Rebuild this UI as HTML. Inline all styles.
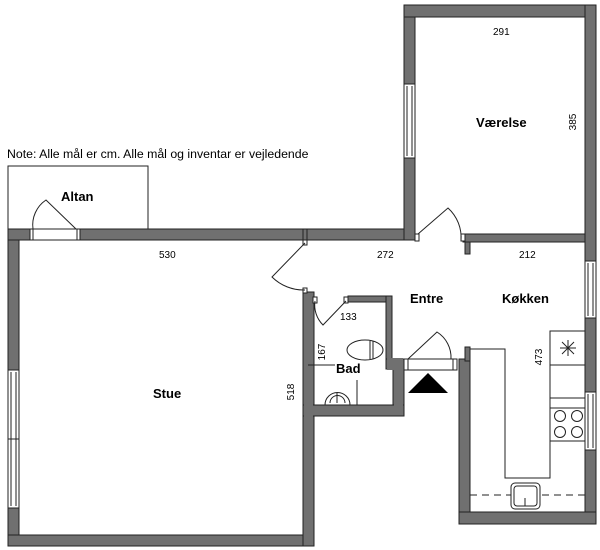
<!DOCTYPE html>
<html><head><meta charset="utf-8"><style>
html,body{margin:0;padding:0;background:#fff;width:600px;height:550px;overflow:hidden}
svg{display:block}
text{font-family:"Liberation Sans",Arial,sans-serif;fill:#000}
.b{font-weight:bold;font-size:13px}
.d{font-size:10px}
</style></head><body>
<svg width="600" height="550" viewBox="0 0 600 550">
<g fill="#707070" stroke="#222" stroke-width="1">
<rect x="8" y="229" width="11" height="317"/>
<rect x="8" y="535" width="306" height="11"/>
<rect x="303" y="292" width="11" height="254"/>
<rect x="8" y="229" width="406" height="11"/>
<rect x="303" y="229" width="4" height="14"/>
<rect x="404" y="5" width="11" height="235"/>
<rect x="404" y="5" width="192" height="12"/>
<rect x="585" y="5" width="11" height="519"/>
<rect x="463" y="234" width="122" height="8"/>
<rect x="465" y="242" width="5" height="12"/>
<rect x="348" y="296" width="44" height="6"/>
<rect x="386" y="296" width="6" height="70"/>
<rect x="386" y="359" width="18" height="10"/>
<rect x="393" y="359" width="11" height="57"/>
<rect x="303" y="405" width="101" height="11"/>
<rect x="459" y="359" width="11" height="165"/>
<rect x="465" y="347" width="5" height="14"/>
<rect x="459" y="512" width="137" height="12"/>
</g>
<rect x="304" y="404" width="9" height="13" fill="#707070"/>
<rect x="394" y="404" width="9" height="11" fill="#707070"/>
<rect x="387" y="358" width="16" height="12" fill="#707070"/>
<g fill="#fff" stroke="#222" stroke-width="1">
<rect x="8" y="370" width="11" height="138"/><line x1="11" y1="372" x2="11" y2="506"/><line x1="16" y1="372" x2="16" y2="506"/><line x1="8" y1="439" x2="19" y2="439"/>
<rect x="404" y="84" width="11" height="74"/><line x1="407" y1="86" x2="407" y2="156"/><line x1="412" y1="86" x2="412" y2="156"/>
<rect x="585" y="261" width="11" height="57"/><line x1="588" y1="263" x2="588" y2="316"/><line x1="593" y1="263" x2="593" y2="316"/>
<rect x="585" y="392" width="11" height="58"/><line x1="588" y1="394" x2="588" y2="448"/><line x1="593" y1="394" x2="593" y2="448"/>
<rect x="30" y="229" width="50" height="11"/><rect x="30" y="229" width="3" height="11"/><rect x="77" y="229" width="3" height="11"/>
<rect x="404" y="359" width="53" height="11"/><rect x="404" y="359" width="4" height="11"/><rect x="453" y="359" width="4" height="11"/>
<rect x="303" y="240" width="4" height="5"/><rect x="303" y="288" width="4" height="5"/>
<rect x="415" y="234" width="4" height="7"/><rect x="461" y="234" width="4" height="7"/>
<rect x="313" y="297" width="4" height="6"/><rect x="344" y="297" width="4" height="6"/>
</g>
<g fill="none" stroke="#222" stroke-width="1">
<rect x="8" y="166" width="140" height="63"/>
<path d="M76,229 L46,200 A30,30 0 0 0 33,229"/>
<path d="M305,243 L272,277 A45,45 0 0 0 305,290"/>
<path d="M418,234 L448,208 A40,40 0 0 1 461,241"/>
<path d="M346,301 L323,325 A28,28 0 0 1 315,301"/>
<path d="M408,359 L437,332 A30,30 0 0 1 451,359"/>
<line x1="308" y1="365" x2="335" y2="365"/>
<line x1="357" y1="380" x2="357" y2="405"/>
<ellipse cx="365" cy="350" rx="18" ry="10"/>
<line x1="370" y1="341" x2="370" y2="359"/><line x1="373" y1="341" x2="373" y2="359"/>
<path d="M325,405 A12,12 0 1 1 350,405"/>
<path d="M330,403 A7,7 0 1 1 345,403"/>
<line x1="337" y1="393" x2="337" y2="403"/>
<path d="M470,349 L505,349 L505,478 L550,478 L550,331 L585,331"/>
<line x1="550" y1="365" x2="585" y2="365"/>
<line x1="550" y1="398" x2="585" y2="398"/>
<line x1="550" y1="408" x2="585" y2="408"/>
<line x1="550" y1="441" x2="585" y2="441"/>
<line x1="560" y1="348" x2="576" y2="348"/><line x1="568" y1="340" x2="568" y2="356"/>
<line x1="562" y1="342" x2="574" y2="354"/><line x1="574" y1="342" x2="562" y2="354"/>
<circle cx="560" cy="416" r="5.5"/><circle cx="577" cy="416" r="5.5"/>
<circle cx="560" cy="432" r="5.5"/><circle cx="577" cy="432" r="5.5"/>
<line x1="470" y1="495" x2="585" y2="495" stroke-dasharray="7,5"/>
<rect x="511" y="483" width="29" height="26" rx="4" fill="#fff"/>
<rect x="514" y="486" width="23" height="20" rx="3"/>
<line x1="525" y1="498" x2="525" y2="506"/>
</g>
<polygon points="408,393 448,393 428,373" fill="#000"/>
<text x="7" y="158" style="font-size:12.3px">Note: Alle mål er cm. Alle mål og inventar er vejledende</text>
<text x="61" y="201" class="b">Altan</text>
<text x="476" y="127" class="b">Værelse</text>
<text x="410" y="303" class="b">Entre</text>
<text x="502" y="303" class="b">Køkken</text>
<text x="336" y="373" class="b">Bad</text>
<text x="153" y="398" class="b">Stue</text>
<text x="159" y="258" class="d">530</text>
<text x="377" y="258" class="d">272</text>
<text x="519" y="258" class="d">212</text>
<text x="493" y="35" class="d">291</text>
<text x="340" y="320" class="d">133</text>
<text transform="translate(576,122) rotate(-90)" class="d" text-anchor="middle">385</text>
<text transform="translate(542,357) rotate(-90)" class="d" text-anchor="middle">473</text>
<text transform="translate(325,352) rotate(-90)" class="d" text-anchor="middle">167</text>
<text transform="translate(294,392) rotate(-90)" class="d" text-anchor="middle">518</text>
</svg>
</body></html>
